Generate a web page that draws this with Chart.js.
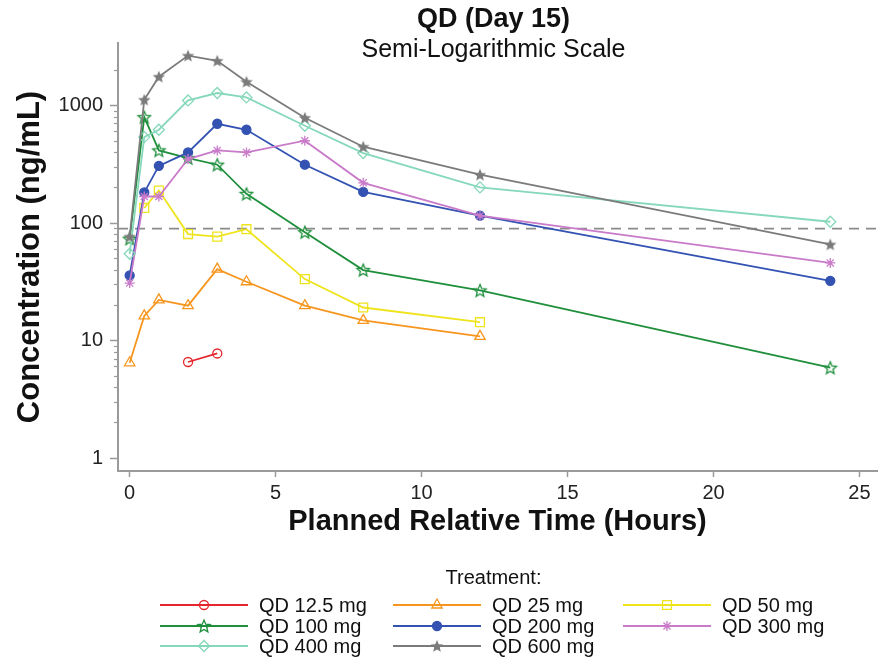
<!DOCTYPE html>
<html>
<head>
<meta charset="utf-8">
<title>QD (Day 15)</title>
<script src="https://cdn.jsdelivr.net/npm/chart.js@4.4.1/dist/chart.umd.min.js"></script>
<style>
  html, body { margin: 0; padding: 0; background: #fff; }
  #wrap { width: 885px; height: 660px; }
</style>
</head>
<body>
<div id="wrap"><canvas id="pkChart" width="885" height="660"></canvas></div>
<script>
// Planned times (h) and concentrations (ng/mL) per treatment, null = no value
const times = [0, 0.5, 1, 2, 3, 4, 6, 8, 12, 24];

const qd12_5 = [null, null, null, 6.6, 7.8, null, null, null, null, null];
const qd25   = [6.5, 16.3, 22.3, 19.9, 40.7, 31.8, 19.9, 14.9, 10.9, null];
const qd50   = [null, 135, 190, 81, 77, 89, 33.5, 19.2, 14.4, null];
const qd100  = [74, 800, 417, 359, 315, 178, 84, 40, 26.8, 5.9];
const qd200  = [36, 183, 308, 401, 703, 625, 315, 185, 116, 32.4];
const qd300  = [31, 169, 169, 352, 417, 401, 504, 221, 116, 46];
const qd400  = [55, 541, 625, 1110, 1283, 1177, 676, 396, 202, 103];
const qd600  = [77, 1125, 1766, 2670, 2415, 1600, 790, 448, 259, 66];

const treatments = ['QD 12.5 mg', 'QD 25 mg', 'QD 50 mg', 'QD 100 mg',
                    'QD 200 mg', 'QD 300 mg', 'QD 400 mg', 'QD 600 mg'];
const seriesValues = [qd12_5, qd25, qd50, qd100, qd200, qd300, qd400, qd600];

// reference level (dashed line)
const refLevel = 90;

// axis ticks
const xTicks = [0, 5, 10, 15, 20, 25];
const yMajorTicks = [1, 10, 100, 1000];
const yMinorTicks = [2, 3, 4, 5, 6, 7, 8, 9,
                     20, 30, 40, 50, 60, 70, 80, 90,
                     200, 300, 400, 500, 600, 700, 800, 900, 2000];
const xMin = -0.4, xMax = 25.6;
const yMin = 0.78, yMax = 3420;

const chartTitle = 'QD (Day 15)';
const chartSubtitle = 'Semi-Logarithmic Scale';
const legendTitle = 'Treatment:';

// styles
const FONT = "'Liberation Sans', Arial, Helvetica, sans-serif";
const seriesColors = ['#e5262c', '#f7961e', '#efe41c', '#1f8f3c',
                      '#3352b2', '#c97ac9', '#86d8ba', '#7b7b7b'];
const axisColor = '#9a9a9a';

function starImage(color, filled, outerR) {
    const size = 16;
    const c = document.createElement('canvas');
    c.width = size; c.height = size;
    const g = c.getContext('2d');
    const cx = size / 2, cy = size / 2 + 0.6;
    const innerR = outerR * 0.45;
    g.beginPath();
    for (let k = 0; k < 10; k++) {
        const r = k % 2 ? innerR : outerR;
        const a = -Math.PI / 2 + k * Math.PI / 5;
        const px = cx + r * Math.cos(a), py = cy + r * Math.sin(a);
        if (k === 0) g.moveTo(px, py); else g.lineTo(px, py);
    }
    g.closePath();
    if (filled) { g.fillStyle = color; g.fill(); }
    else { g.strokeStyle = color; g.lineWidth = 1.3; g.stroke(); }
    return c;
}

const markerStyles = ['circle', 'triangle', 'rect', starImage(seriesColors[3], false, 6.5),
                      'circle', 'star', 'rectRot', starImage(seriesColors[7], true, 6.5)];
const markerRadius = [4.5, 6, 6.3, 6, 4.5, 5, 5.5, 6];
const markerFilled = [false, false, false, false, true, false, false, true];

const toPoints = vals => times.map((t, i) => ({ x: t, y: vals[i] })).filter(p => p.y !== null);

const datasets = seriesValues.map((vals, i) => ({
    label: treatments[i],
    data: toPoints(vals),
    borderColor: seriesColors[i],
    backgroundColor: seriesColors[i],
    borderWidth: 1.8,
    pointStyle: markerStyles[i],
    pointRadius: markerRadius[i],
    pointBorderWidth: 1.3,
    pointBorderColor: seriesColors[i],
    pointBackgroundColor: markerFilled[i] ? seriesColors[i] : 'rgba(0,0,0,0)',
    tension: 0,
    order: -i
}));

datasets.push({
    label: 'ref',
    data: [{ x: xMin, y: refLevel }, { x: xMax, y: refLevel }],
    borderColor: '#8a8a8a',
    borderWidth: 1.8,
    borderDash: [10, 7],
    pointRadius: 0,
    order: 100
});

// titles + legend, drawn in the chart's own canvas
const decorPlugin = {
    id: 'decor',
    afterDraw(chart) {
        const { ctx, chartArea } = chart;
        const cx = (chartArea.left + chartArea.right) / 2 - 4;
        ctx.save();
        ctx.fillStyle = '#111';
        ctx.textAlign = 'center';
        ctx.textBaseline = 'middle';
        ctx.font = 'bold 27px ' + FONT;
        ctx.fillText(chartTitle, cx, 20);
        ctx.font = '25px ' + FONT;
        ctx.fillText(chartSubtitle, cx, 50);

        ctx.font = '20px ' + FONT;
        ctx.fillText(legendTitle, cx, 578);

        const cols = [160, 393, 623];
        const rows = [605, 626, 646];
        ctx.textAlign = 'left';
        treatments.forEach((name, i) => {
            const ds = chart.data.datasets[i];
            const x0 = cols[i % 3], y = rows[Math.floor(i / 3)];
            ctx.setLineDash([]);
            ctx.strokeStyle = ds.borderColor;
            ctx.lineWidth = 2;
            ctx.beginPath();
            ctx.moveTo(x0, y);
            ctx.lineTo(x0 + 88, y);
            ctx.stroke();
            ctx.fillStyle = ds.pointBackgroundColor;
            ctx.lineWidth = ds.pointBorderWidth;
            if (Chart.helpers && Chart.helpers.drawPoint) {
                Chart.helpers.drawPoint(ctx, {
                    pointStyle: ds.pointStyle, radius: ds.pointRadius,
                    rotation: 0, borderWidth: ds.pointBorderWidth
                }, x0 + 44, y);
            }
            ctx.fillStyle = '#111';
            ctx.fillText(name, x0 + 99, y + 1);
        });
        ctx.restore();
    }
};

Chart.defaults.font.family = FONT;
Chart.defaults.color = '#222';

const ctx = document.getElementById('pkChart').getContext('2d');
const pkChart = new Chart(ctx, {
    type: 'line',
    data: { datasets: datasets },
    plugins: [decorPlugin],
    options: {
        responsive: false,
        animation: false,
        layout: { padding: { top: 43, right: 8, bottom: 115, left: 0 } },
        plugins: { legend: { display: false }, title: { display: false }, tooltip: { enabled: false } },
        scales: {
            x: {
                type: 'linear',
                min: xMin,
                max: xMax,
                afterBuildTicks: s => { s.ticks = xTicks.map(v => ({ value: v })); },
                afterFit: s => { s.height = 74; },
                ticks: { font: { size: 20 }, color: '#222', padding: 4, maxRotation: 0, autoSkip: false },
                grid: { drawOnChartArea: false, tickLength: 6, tickColor: axisColor, tickWidth: 1.5 },
                border: { display: true, color: axisColor, width: 2 },
                title: {
                    display: true, text: 'Planned Relative Time (Hours)',
                    font: { size: 29, weight: 'bold' }, color: '#111',
                    padding: { top: 0, bottom: 6 }
                }
            },
            y: {
                type: 'logarithmic',
                position: 'left',
                weight: 1,
                min: yMin,
                max: yMax,
                afterBuildTicks: s => { s.ticks = yMajorTicks.map(v => ({ value: v })); },
                afterFit: s => { s.width = 118; },
                ticks: { callback: v => String(v), font: { size: 20 }, color: '#222', padding: 7, autoSkip: false },
                grid: { drawOnChartArea: false, tickLength: 8, tickColor: axisColor, tickWidth: 1.5 },
                border: { display: true, color: axisColor, width: 2 },
                title: {
                    display: true, text: 'Concentration (ng/mL)',
                    font: { size: 31, weight: 'bold' }, color: '#111',
                    padding: { top: 12, bottom: 0 }
                }
            },
            yMinor: {
                type: 'logarithmic',
                position: 'left',
                weight: 0,
                min: yMin,
                max: yMax,
                afterBuildTicks: s => { s.ticks = yMinorTicks.map(v => ({ value: v })); },
                afterFit: s => { s.width = 0; },
                ticks: { display: false },
                grid: { drawOnChartArea: false, tickLength: 4, tickColor: axisColor, tickWidth: 1.2 },
                border: { display: false }
            }
        }
    }
});
</script>
</body>
</html>
